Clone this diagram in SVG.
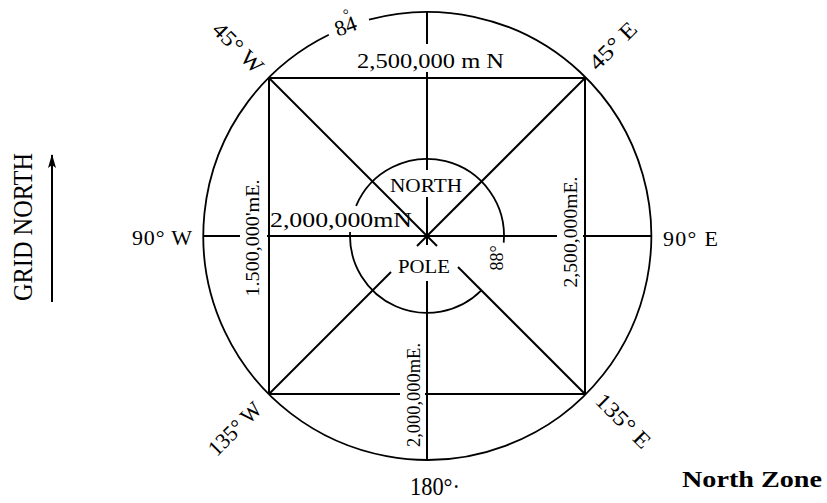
<svg xmlns="http://www.w3.org/2000/svg" width="827" height="503" viewBox="0 0 827 503">
<defs>
<marker id="ah" viewBox="0 0 14 10" refX="13" refY="5" markerWidth="14" markerHeight="10" markerUnits="userSpaceOnUse" orient="auto">
<path d="M0,1 L14,5 L0,9 L3,5 Z" fill="#000"/>
</marker>
</defs>
<style>
.ln{stroke:#000;stroke-width:2;fill:none;stroke-linecap:butt}
.cl{stroke:#000;stroke-width:1.8;fill:none}
text{font-family:"Liberation Serif","Times New Roman",serif;fill:#000}
.lbl{font-size:22px}
.big{font-size:22px}
.sm{font-size:18px}
.med{font-size:19px}
</style>
<rect width="827" height="503" fill="#fff"/>

<g id="grid-north">
<line class="ln" x1="52" y1="302" x2="52" y2="155" stroke-width="1.8" marker-end="url(#ah)"/>
<text transform="translate(32,227) rotate(-90)" text-anchor="middle" font-size="28" textLength="148" lengthAdjust="spacingAndGlyphs">GRID NORTH</text>
</g>

<g id="outer-circle">
<path class="cl" d="M369.0,19.6 A224,224 0 1 1 328.8,34.7"/>
</g>

<g id="inner-circle">
<path class="cl" d="M356.1,205.9 A77,77 0 0 1 503.7,242.7"/>
<path class="cl" d="M350.1,232 A77,77 0 0 0 481.4,290.4"/>
</g>

<g id="connectors">
<line class="ln" x1="269" y1="78" x2="585" y2="78"/>
<line class="ln" x1="269" y1="78" x2="269" y2="394"/>
<line class="ln" x1="585" y1="78" x2="585" y2="394"/>
<line class="ln" x1="269" y1="394" x2="400" y2="394"/>
<line class="ln" x1="425" y1="394" x2="585" y2="394"/>
<line class="ln" x1="427" y1="12" x2="427" y2="44"/>
<line class="ln" x1="427" y1="72" x2="427" y2="170"/>
<line class="ln" x1="427" y1="197" x2="427" y2="245"/>
<line class="ln" x1="427" y1="281" x2="427" y2="460"/>
<line class="ln" x1="203" y1="236" x2="240" y2="236"/>
<line class="ln" x1="267" y1="236" x2="557" y2="236"/>
<line class="ln" x1="583" y1="236" x2="651" y2="236"/>
<line class="ln" x1="269" y1="78" x2="427" y2="236"/>
<line class="ln" x1="585" y1="78" x2="427" y2="236"/>
<line class="ln" x1="269" y1="394" x2="391" y2="272"/>
<line class="ln" x1="585" y1="394" x2="458" y2="267"/>
<line class="ln" x1="427" y1="236" x2="417" y2="246"/>
<line class="ln" x1="427" y1="236" x2="437" y2="246"/>
</g>

<g id="labels">
<text class="lbl" transform="translate(348,33) rotate(-20)" text-anchor="middle">84<tspan dx="-9" dy="-13" font-size="15">°</tspan></text>
<text class="lbl" transform="translate(233,53) rotate(45)" text-anchor="middle" textLength="62" lengthAdjust="spacingAndGlyphs">45° W</text>
<text class="lbl" transform="translate(618,51) rotate(-45)" text-anchor="middle" textLength="58" lengthAdjust="spacingAndGlyphs">45° E</text>
<text class="lbl" x="132" y="245" textLength="60" lengthAdjust="spacing">90° W</text>
<text class="lbl" x="663" y="246" textLength="55" lengthAdjust="spacing">90° E</text>
<text class="lbl" transform="translate(240,434) rotate(-45)" text-anchor="middle" textLength="66" lengthAdjust="spacingAndGlyphs">135° W</text>
<text class="lbl" transform="translate(618,426) rotate(45)" text-anchor="middle" textLength="68" lengthAdjust="spacingAndGlyphs">135° E</text>
<text x="410" y="495" font-size="25" textLength="50" lengthAdjust="spacingAndGlyphs">180°·</text>
<text class="big" x="357" y="68" textLength="147" lengthAdjust="spacingAndGlyphs">2,500,000 m N</text>
<text class="big" x="270" y="227" textLength="142" lengthAdjust="spacingAndGlyphs">2,000,000mN</text>
<text class="med" x="426" y="192" text-anchor="middle" textLength="72" lengthAdjust="spacingAndGlyphs">NORTH</text>
<text class="med" x="424" y="273" text-anchor="middle" textLength="52" lengthAdjust="spacingAndGlyphs">POLE</text>
<text class="sm" transform="translate(503,258) rotate(-90)" text-anchor="middle">88°</text>
<text class="sm" transform="translate(259,238) rotate(-90)" text-anchor="middle" textLength="117" lengthAdjust="spacingAndGlyphs">1.500,000'mE.</text>
<text class="sm" transform="translate(577,232) rotate(-90)" text-anchor="middle" textLength="111" lengthAdjust="spacingAndGlyphs">2,500,000mE.</text>
<text class="sm" transform="translate(420,395) rotate(-90)" text-anchor="middle" textLength="104" lengthAdjust="spacingAndGlyphs">2,000,000mE.</text>
<text x="682" y="487" font-size="24" font-weight="bold" textLength="140" lengthAdjust="spacingAndGlyphs">North Zone</text>
</g>
</svg>
